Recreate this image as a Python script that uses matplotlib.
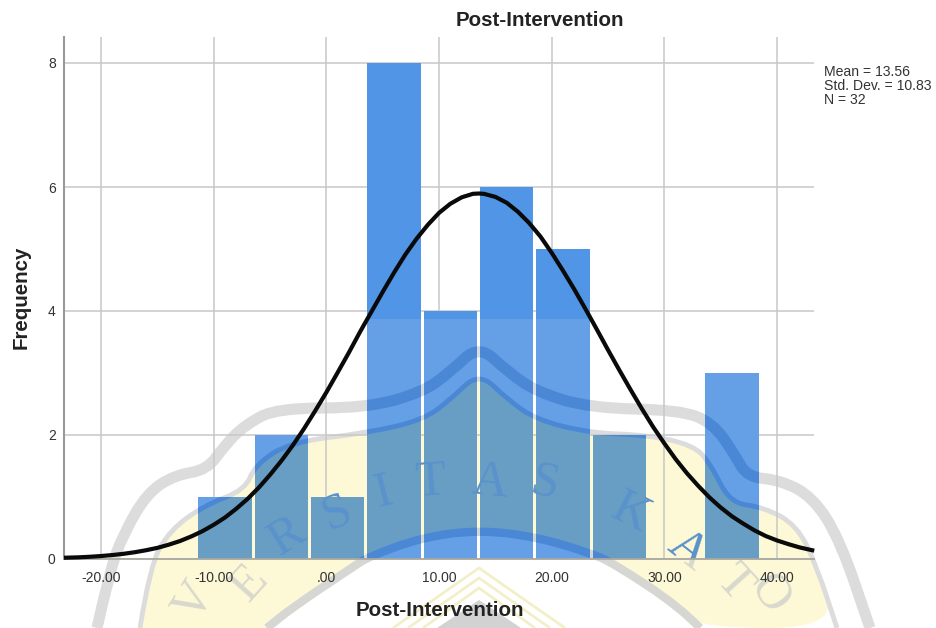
import matplotlib
matplotlib.use("Agg")
import matplotlib.pyplot as plt
from matplotlib.patches import PathPatch, Rectangle
from matplotlib.path import Path
from matplotlib.transforms import Affine2D, IdentityTransform

plt.rcParams['font.family'] = ['Liberation Sans', 'DejaVu Sans']

# histogram
bin_left = [-11.37, -6.37, -1.37, 3.63, 8.63, 13.63, 18.63, 23.63, 28.63, 33.63]
freq = [1, 2, 1, 8, 4, 6, 5, 2, 0, 3]

# normal curve
curve_x = [-23.3, -22, -21, -20, -19, -18, -17, -16, -15, -14, -13, -12, -11, -10, -9, -8, -7, -6, -5, -4, -3, -2, -1,
           0, 1, 2, 3, 4, 5, 6, 7, 8, 9, 10, 11, 12, 13, 13.56, 14, 15, 16, 17, 18, 19, 20, 21, 22, 23, 24, 25, 26,
           27, 28, 29, 30, 31, 32, 33, 34, 35, 36, 37, 38, 39, 40, 41, 42, 43, 43.3]
curve_y = [0.02, 0.027, 0.036, 0.048, 0.064, 0.084, 0.11, 0.142, 0.18, 0.231, 0.29, 0.364, 0.45, 0.553, 0.67, 0.812,
           0.97, 1.153, 1.36, 1.584, 1.83, 2.10, 2.39, 2.691, 3.01, 3.333, 3.67, 3.99, 4.31, 4.619, 4.91, 5.166,
           5.39, 5.584, 5.73, 5.833, 5.89, 5.895, 5.889, 5.84, 5.746, 5.60, 5.418, 5.20, 4.937, 4.65, 4.349, 4.03,
           3.703, 3.37, 3.046, 2.73, 2.423, 2.13, 1.863, 1.61, 1.383, 1.18, 0.993, 0.83, 0.688, 0.57, 0.461, 0.37,
           0.299, 0.24, 0.187, 0.146, 0.134]

x_ticks = [-20, -10, 0, 10, 20, 30, 40]
x_labels = ['-20.00', '-10.00', '.00', '10.00', '20.00', '30.00', '40.00']
y_ticks = [0, 2, 4, 6, 8]

# watermark outline in image pixels (background logo of the scan)
outer_band = [(97, 628), (110, 570), (123, 535), (147, 493), (175, 475), (207, 470), (225, 445), (245, 425),
              (277, 408), (367, 408), (423, 392), (450, 372), (479, 345), (508, 372), (537, 392), (590, 408),
              (680, 410), (713, 423), (735, 455), (747, 477), (780, 480), (813, 497), (840, 540), (870, 628)]
inner_band = [(140, 628), (150, 565), (170, 530), (205, 505), (245, 490), (255, 465), (290, 442), (367, 433),
              (423, 420), (450, 400), (479, 372), (508, 400), (537, 420), (590, 433), (647, 435), (693, 445),
              (710, 463), (730, 503), (763, 507), (797, 525), (817, 567), (837, 628)]
lower_band = [(700, 628), (680, 607), (613, 563), (590, 553), (537, 537), (480, 530), (423, 537), (368, 557),
              (353, 567), (293, 607), (267, 628)]
chevrons = [[(393, 628), (479, 568), (565, 628)], [(408, 628), (479, 578), (550, 628)],
            [(423, 628), (479, 588), (535, 628)]]
letters = [('V', 195, 602, 58), ('E', 250, 583, 48), ('R', 287, 537, 32), ('S', 337, 513, 22), ('I', 383, 493, 14),
           ('T', 430, 483, 4), ('A', 490, 483, -6), ('S', 545, 483, -12), ('K', 630, 513, -27), ('A', 687, 550, -38),
           ('T', 733, 583, -48), ('O', 770, 594, -55)]


def smooth_path(pts, closed=False):
    # quadratic curves through the midpoints, keeps the logo outline round
    verts = [pts[0]]
    codes = [Path.MOVETO]
    for i in range(1, len(pts) - 1):
        mid = ((pts[i][0] + pts[i + 1][0]) / 2, (pts[i][1] + pts[i + 1][1]) / 2)
        verts += [pts[i], mid]
        codes += [Path.CURVE3, Path.CURVE3]
    verts.append(pts[-1])
    codes.append(Path.LINETO)
    if closed:
        verts.append(pts[0])
        codes.append(Path.CLOSEPOLY)
    return Path(verts, codes)


fig = plt.figure(figsize=(9.37, 6.28), dpi=100, facecolor='white')
ax = fig.add_axes([64 / 937, (628 - 559) / 628, 750 / 937, 522 / 628])
ax.patch.set_alpha(0)
ax.set_xlim(-23.3, 43.28)
ax.set_ylim(0, 522 / 62)

bars = ax.bar(bin_left, freq, width=4.73, align='edge', color='#659fe6', zorder=2)

ax.plot(curve_x, curve_y, color='#0a0a0a', lw=3, zorder=5, clip_on=False, solid_capstyle='butt')

ax.set_xticks(x_ticks, x_labels)
ax.set_yticks(y_ticks)
ax.tick_params(length=0, labelsize=10, labelcolor='#333333', pad=9)
ax.tick_params(axis='y', pad=6)
ax.grid(True, color='#c8c8c8', lw=1.1)
ax.set_axisbelow(True)
for s in ['top', 'right']:
    ax.spines[s].set_visible(False)
ax.spines['left'].set_color('#999999')
ax.spines['left'].set_linewidth(1.5)
ax.spines['bottom'].set_color('#a8a8a0')
ax.spines['bottom'].set_linewidth(1.3)
ax.spines['bottom'].set_zorder(4)

px = Affine2D().scale(1, -1).translate(0, 628)
fig.text(540 / 937, 1 - 20 / 628, 'Post-Intervention', fontsize=14.8, fontweight='bold', color='#222222',
         ha='center', va='center')
fig.text(440 / 937, 1 - 611 / 628, 'Post-Intervention', fontsize=14.8, fontweight='bold', color='#222222',
         ha='center', va='center', zorder=6)
fig.text(21 / 937, 1 - 297 / 628, 'Frequency', fontsize=14.8, fontweight='bold', color='#222222', rotation=90,
         ha='center', va='center')
fig.text(824 / 937, 1 - 65 / 628, 'Mean = 13.56\nStd. Dev. = 10.83\nN = 32', fontsize=10.1, color='#333333',
         ha='left', va='top', linespacing=0.98)

# everything of the watermark inside the bars is clipped to this path
bar_clip = Path.make_compound_path(*[b.get_path().transformed(b.get_transform()) for b in bars])


def add_shape(path, front=False, **kw):
    p = PathPatch(path, transform=px, clip_on=False, **kw)
    ax.add_patch(p)
    if front:
        p.set_clip_on(True)
        p.set_clip_path(bar_clip, IdentityTransform())
    return p


arch = smooth_path(inner_band + lower_band, closed=True)
add_shape(arch, facecolor='#fdf9d6', edgecolor='none', zorder=0.2)
add_shape(smooth_path(outer_band), facecolor='none', edgecolor='#dcdcdc', lw=8, zorder=0.3)
add_shape(smooth_path(inner_band), facecolor='none', edgecolor='#dcdcdc', lw=3.5, zorder=0.3)
add_shape(smooth_path(lower_band), facecolor='none', edgecolor='#d6d6d2', lw=6, zorder=0.3)
for c in chevrons:
    add_shape(Path(c), facecolor='none', edgecolor='#f3efc8', lw=2, zorder=0.3)
add_shape(Path([(479, 600), (437, 628), (521, 628), (479, 600)]), facecolor='#d2d2d2', edgecolor='none', zorder=0.3)

add_shape(arch, front=True, facecolor='#689ec3', edgecolor='none', zorder=3)
add_shape(smooth_path(outer_band), front=True, facecolor='none', edgecolor='#4a88d6', lw=8, zorder=3.1)
add_shape(smooth_path(inner_band), front=True, facecolor='none', edgecolor='#4a88d6', lw=3.5, zorder=3.1)
add_shape(smooth_path(lower_band), front=True, facecolor='none', edgecolor='#4a88d6', lw=6, zorder=3.1)

# upper part of the bars is darker, the scan's logo box starts below it
top_box = Rectangle((0, 0), 937, 319, transform=px, facecolor='#5095e6', edgecolor='none', zorder=3.2)
ax.add_patch(top_box)
top_box.set_clip_path(bar_clip, IdentityTransform())

for ch, lx, ly, rot in letters:
    ax.text(lx, ly, ch, transform=px, family='Liberation Serif', fontsize=36, color='#d8d8cc', rotation=rot,
            rotation_mode='anchor', ha='center', va='center', zorder=0.4, clip_on=False)
    t = ax.text(lx, ly, ch, transform=px, family='Liberation Serif', fontsize=36, color='#5a92cc', rotation=rot,
                rotation_mode='anchor', ha='center', va='center', zorder=3.3, clip_on=True)
    t.set_clip_path(bar_clip, IdentityTransform())

fig.savefig('out.png', dpi=100)
